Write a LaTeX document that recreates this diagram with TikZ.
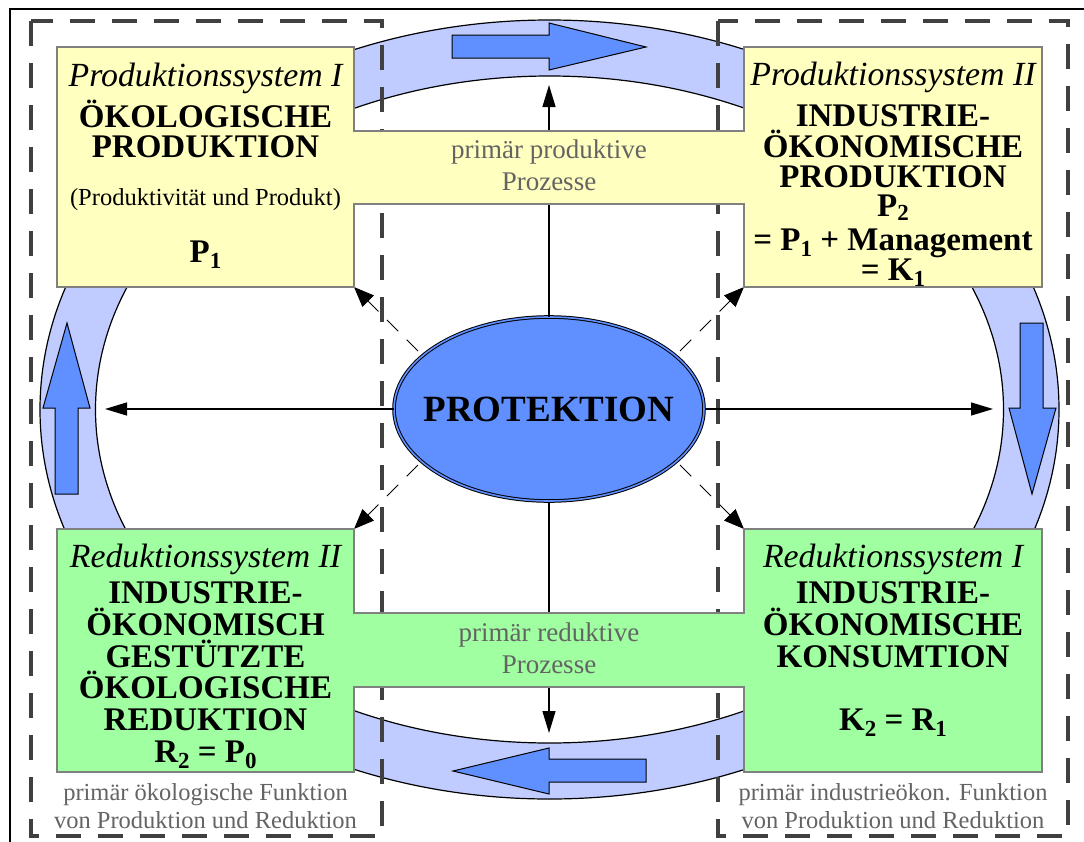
\documentclass[tikz,border=0pt]{standalone}
\usepackage{fontspec}
\setmainfont{Liberation Serif}
\usetikzlibrary{arrows.meta,shapes.geometric}
\definecolor{boxyellow}{RGB}{255,255,192}
\definecolor{boxgreen}{RGB}{160,255,160}
\definecolor{ringblue}{RGB}{192,204,255}
\definecolor{deepblue}{RGB}{96,144,255}
\definecolor{dashgray}{RGB}{64,64,64}
\definecolor{txtgray}{RGB}{100,100,100}
\definecolor{bordergray}{RGB}{128,128,128}
\newcommand\lsub[1]{\raisebox{-6pt}{\fontsize{23}{23}\selectfont #1}}
\newcommand\ssub[1]{\raisebox{-4pt}{\fontsize{23}{23}\selectfont #1}}
\begin{document}
\begin{tikzpicture}[x=1pt,y=-1pt,
  ital/.style={font=\fontsize{33.8}{36}\selectfont\itshape, anchor=base, inner sep=0},
  bold/.style={font=\fontsize{33}{36}\selectfont\bfseries, anchor=base, inner sep=0},
  small/.style={font=\fontsize{24.5}{26}\selectfont, anchor=base, inner sep=0},
  graytxt/.style={font=\fontsize{24.5}{26}\selectfont, text=txtgray, anchor=base, inner sep=0},
  bandtxt/.style={font=\fontsize{27}{29}\selectfont, text=txtgray, anchor=base, inner sep=0},
  ringline/.style={draw=black, line width=1.2pt},
  blockarrow/.style={fill=deepblue, draw=black, line width=1pt},
  dashrect/.style={draw=dashgray, line width=4pt, dash pattern=on 25pt off 17pt},
  arr/.style={draw=black, line width=1.3pt, -{Triangle[length=22pt,width=13pt]}},
  darr/.style={draw=black, line width=1pt, dash pattern=on 16pt off 12pt, -{Triangle[length=20pt,width=16pt]}},
  boxshape/.style={draw=bordergray, line width=1.5pt}
]
\useasboundingbox (0,0) rectangle (1084,841);
\clip (0,0) rectangle (1084,841);
\fill[white] (0,0) rectangle (1084,841);
% outer frame
\draw[black, line width=2pt] (10,9) rectangle (1110,870);
% ring
\fill[ringblue, even odd rule] (549.5,409.5) ellipse (509.5pt and 389.5pt) (549.5,409.5) ellipse (454pt and 333.5pt);
\draw[ringline] (549.5,409.5) ellipse (509.5pt and 389.5pt);
\draw[ringline] (549.5,409.5) ellipse (454pt and 333.5pt);
% block arrows in ring
\path[blockarrow] (452,35) -- (549,35) -- (549,23) -- (646,47) -- (549,70) -- (549,58) -- (452,58) -- cycle;
\path[blockarrow] (646,759) -- (549,759) -- (549,748) -- (453,771) -- (549,794) -- (549,782) -- (646,782) -- cycle;
\path[blockarrow] (55,494) -- (55,408) -- (43,408) -- (67,323) -- (90,408) -- (78,408) -- (78,494) -- cycle;
\path[blockarrow] (1020,323) -- (1043,323) -- (1043,408) -- (1056,408) -- (1032,494) -- (1009,408) -- (1020,408) -- cycle;
% dashed regions
\draw[dashrect] (31,21) rectangle (382,836);
\draw[dashrect] (718,21) rectangle (1068,836);
% central ellipse
\node (prot) [ellipse, minimum width=310pt, minimum height=184pt, inner sep=0, fill=deepblue, draw=black, line width=1pt, double=deepblue, double distance=1.6pt, font=\fontsize{37}{40}\selectfont\bfseries] at (549,409) {\makebox[0pt]{PROTEKTION}};
% connector ends
\coordinate (tU) at (549,85);
\coordinate (tD) at (549,733);
\coordinate (tL) at (105,409);
\coordinate (tR) at (993,409);
\coordinate (cTL) at (354,287);
\coordinate (cTR) at (744,287);
\coordinate (cBL) at (354,529);
\coordinate (cBR) at (744,529);
\coordinate (sTL) at (418,351);
\coordinate (sTR) at (680,351);
\coordinate (sBL) at (418,465);
\coordinate (sBR) at (680,465);
\draw[arr] (prot.north) -- (tU);
\draw[arr] (prot.south) -- (tD);
\draw[arr] (prot.west) -- (tL);
\draw[arr] (prot.east) -- (tR);
\draw[darr] (sTL) -- (cTL);
\draw[darr] (sTR) -- (cTR);
\draw[darr] (sBL) -- (cBL);
\draw[darr] (sBR) -- (cBR);
% boxes
\path[boxshape, fill=boxyellow] (57,47) -- (354,47) -- (354,131) -- (744,131) -- (744,47) -- (1042,47) -- (1042,287) -- (744,287) -- (744,204) -- (354,204) -- (354,287) -- (57,287) -- cycle;
\path[boxshape, fill=boxgreen] (57,529) -- (354,529) -- (354,613) -- (744,613) -- (744,529) -- (1042,529) -- (1042,772) -- (744,772) -- (744,687) -- (354,687) -- (354,772) -- (57,772) -- cycle;
% texts top-left
\node[ital] (tl1) at (205.5,86) {Produktionssystem I};
\node[bold] (tl2) at (205.5,127) {ÖKOLOGISCHE};
\node[bold] (tl3) at (205.5,157) {PRODUKTION};
\node[small] (tl4) at (205.5,205) {(Produktivität und Produkt)};
\node[bold] (tl5) at (205.5,262) {P\lsub{1}};
% texts top-right
\node[ital] (tr1) at (893,85) {Produktionssystem II};
\node[bold] (tr2) at (893,126) {INDUSTRIE-};
\node[bold] (tr3) at (893,157) {ÖKONOMISCHE};
\node[bold] (tr4) at (893,187) {PRODUKTION};
\node[bold] (tr5) at (893,216) {P\ssub{2}};
\node[bold] (tr6) at (893,250) {= P\lsub{1} + Management};
\node[bold] (tr7) at (893,280) {= K\lsub{1}};
% band texts
\node[bandtxt] (bt1) at (549,158) {primär produktive};
\node[bandtxt] (bt2) at (549,190) {Prozesse};
\node[bandtxt] (bb1) at (549,641) {primär reduktive};
\node[bandtxt] (bb2) at (549,673) {Prozesse};
% texts bottom-left
\node[ital] (bl1) at (205.5,567) {Reduktionssystem II};
\node[bold] (bl2) at (205.5,603) {INDUSTRIE-};
\node[bold] (bl3) at (205.5,635) {ÖKONOMISCH};
\node[bold] (bl4) at (205.5,667) {GESTÜTZTE};
\node[bold] (bl5) at (205.5,698) {ÖKOLOGISCHE};
\node[bold] (bl6) at (205.5,730) {REDUKTION};
\node[bold] (bl7) at (205.5,762) {R\lsub{2} = P\lsub{0}};
% texts bottom-right
\node[ital] (br1) at (893,567) {Reduktionssystem I};
\node[bold] (br2) at (893,603) {INDUSTRIE-};
\node[bold] (br3) at (893,635) {ÖKONOMISCHE};
\node[bold] (br4) at (893,667) {KONSUMTION};
\node[bold] (br5) at (893,730) {K\lsub{2} = R\lsub{1}};
% captions
\node[graytxt] (cl1) at (205.5,800) {primär ökologische Funktion};
\node[graytxt] (cl2) at (205.5,828) {von Produktion und Reduktion};
\node[graytxt] (cr1) at (893,800) {primär industrieökon. Funktion};
\node[graytxt] (cr2) at (893,828) {von Produktion und Reduktion};
\end{tikzpicture}
\end{document}
